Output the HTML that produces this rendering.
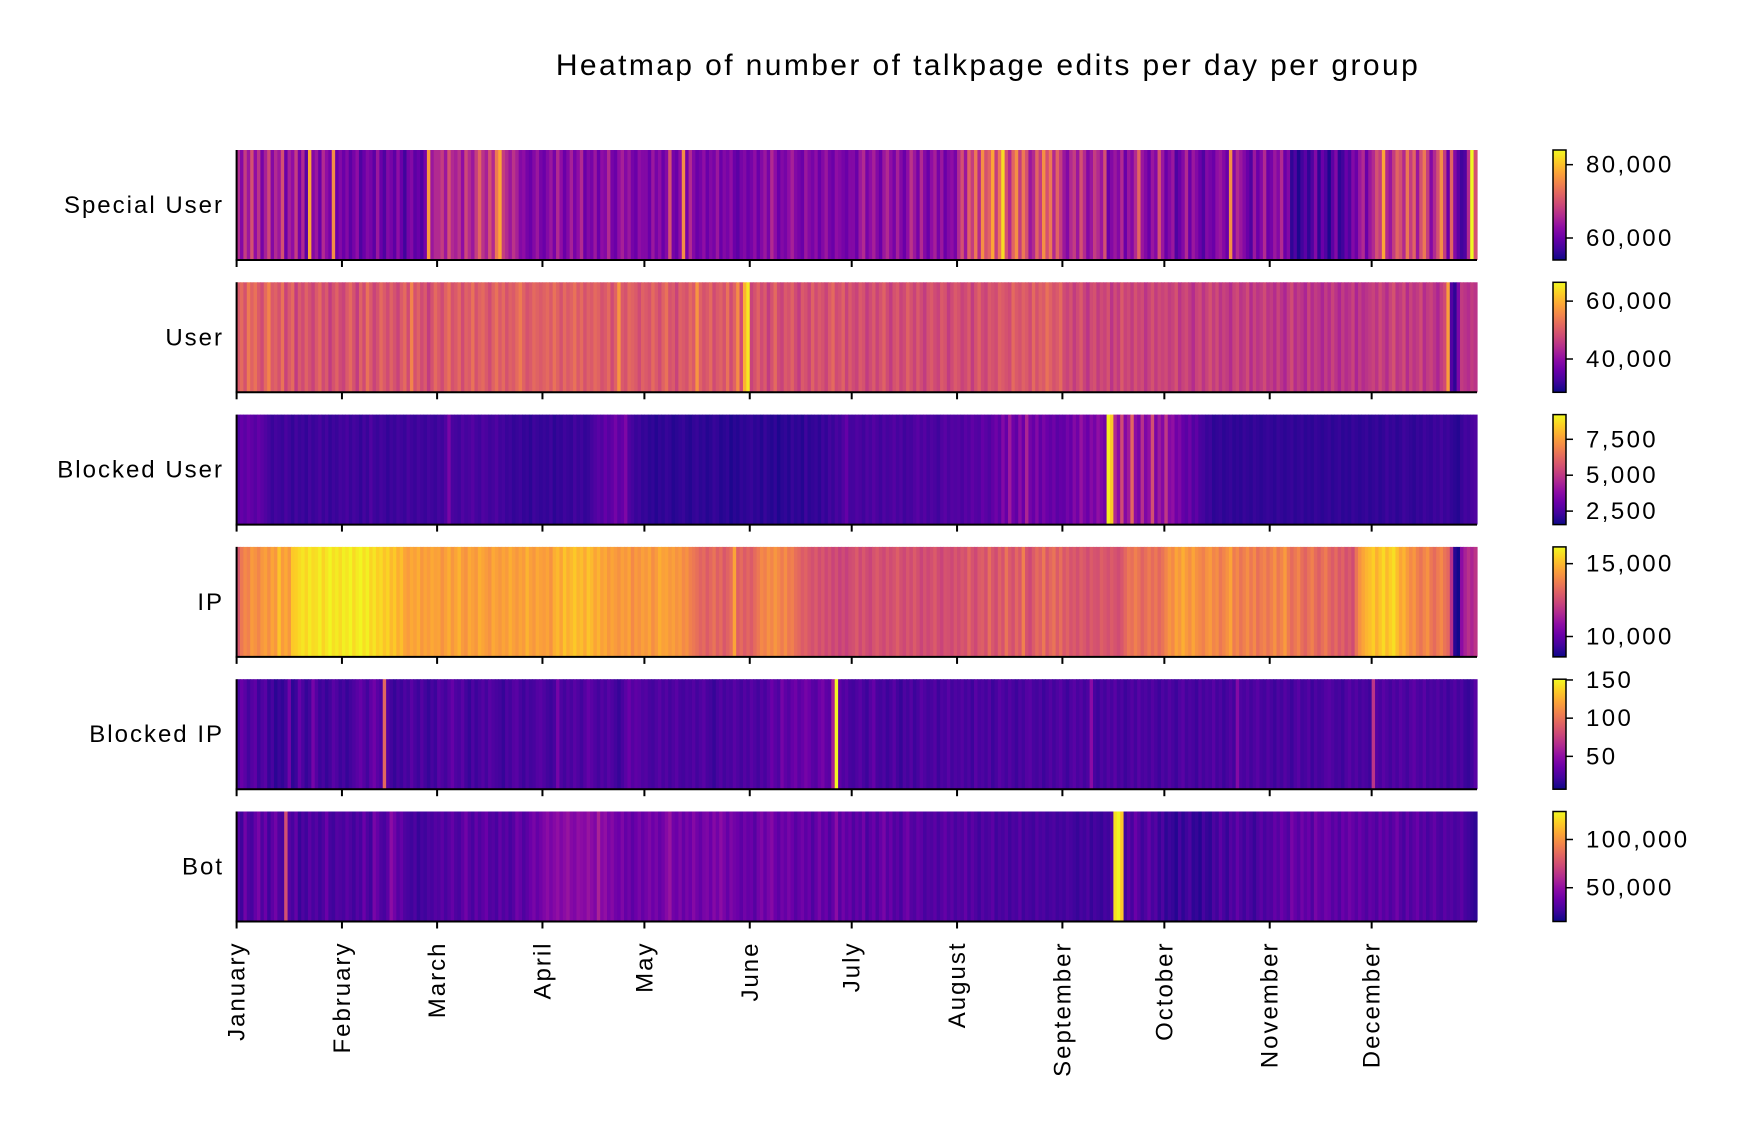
<!DOCTYPE html>
<html><head><meta charset="utf-8"><style>
html,body{margin:0;padding:0;background:#fff;}
svg{display:block;font-family:"Liberation Sans",sans-serif;}
</style></head><body>
<svg id="chart" width="1740" height="1134" viewBox="0 0 1740 1134" xmlns="http://www.w3.org/2000/svg">
<text x="988" y="75" font-size="30" letter-spacing="2.4" text-anchor="middle" fill="#000">Heatmap of number of talkpage edits per day per group</text>
<g id="plots"></g>
</svg>
<script>
const groups = ["Special User","User","Blocked User","IP","Blocked IP","Bot"];
const months = ["January","February","March","April","May","June","July","August","September","October","November","December"];
const monthStartDays = [0,31,59,90,120,151,181,212,243,273,304,334];
const totalDays = 365;
// values in thousands (except Blocked IP, raw counts)
const specialUser = [66,62,68,64,70,63,67,61,65,69,62,66,64,70,60,65,63,68,61,66,59,78,62,64,60,66,63,61,76,60,62,
60,62,59,61,63,58,60,62,61,59,64,60,58,62,61,59,63,60,57,61,62,59,60,58,61,77,64,66,
66,68,64,70,66,65,67,63,69,66,64,68,72,67,65,70,66,74,78,68,66,64,67,65,62,63,61,60,62,64,61,
60,62,64,61,66,63,60,62,65,61,63,66,60,62,61,64,60,63,62,66,61,60,63,65,62,64,61,60,63,62,
62,60,64,61,63,60,62,70,61,60,63,76,61,66,62,60,61,63,60,62,61,64,60,62,61,63,60,59,61,62,60,
61,63,60,62,64,61,66,63,60,62,61,63,65,62,61,60,64,62,61,63,60,62,64,61,60,63,62,61,60,62,
62,60,64,66,61,63,65,62,60,64,66,63,61,65,62,60,63,67,64,61,66,62,60,63,65,61,64,60,62,63,61,
66,70,64,72,68,74,66,76,70,72,78,68,74,82,70,66,72,76,68,74,70,64,66,72,68,76,70,74,66,72,68,
64,62,66,68,64,70,66,62,64,68,66,64,70,60,62,64,62,66,60,64,62,66,72,64,62,60,64,62,70,64,
60,62,64,58,60,62,66,60,64,62,60,58,62,61,60,63,64,62,60,76,62,66,64,62,60,58,64,60,62,66,60,
61,64,62,66,60,62,56,58,55,57,59,56,58,62,56,60,58,55,59,62,56,57,60,58,62,60,64,66,60,64,
66,70,68,78,66,64,68,72,70,66,74,68,72,64,70,74,68,62,66,70,76,68,60,72,62,59,57,58,66,84,70];
const userVals = [50,52,49,54,51,53,50,48,52,55,50,51,49,53,47,50,52,46,50,48,51,49,47,50,52,48,50,46,49,51,48,
47,50,52,49,46,51,48,53,50,47,49,52,50,48,51,49,47,50,52,48,55,49,51,48,50,46,49,52,
50,48,51,53,49,50,52,48,51,50,53,49,51,52,50,48,51,53,50,52,49,51,50,52,54,51,49,50,52,51,50,
51,52,50,53,51,49,52,50,51,53,50,52,49,51,50,52,51,49,50,52,48,51,57,50,49,52,51,50,48,51,
50,49,52,50,48,51,53,49,50,47,51,50,49,52,50,57,51,49,50,52,48,50,51,49,53,48,51,56,48,60,65,
47,49,51,48,50,46,49,52,48,47,50,49,51,48,46,50,49,47,51,48,50,49,47,50,52,48,49,51,47,50,
48,47,50,49,46,48,50,47,49,51,48,46,49,50,47,48,51,49,47,50,48,46,49,50,48,47,50,49,46,48,50,
49,47,48,50,46,49,51,48,47,50,49,48,51,50,49,48,52,50,49,51,50,48,52,49,51,50,53,51,49,50,52,
48,47,49,46,48,50,47,45,48,49,46,48,47,49,45,48,46,50,47,48,46,49,47,48,45,47,49,46,48,47,
48,46,47,49,45,47,48,46,44,47,48,45,47,49,46,48,45,47,46,44,47,48,45,46,48,44,47,45,46,48,45,
46,44,47,45,43,46,48,44,46,45,43,47,44,46,45,43,46,44,47,45,43,46,44,45,47,43,46,44,45,46,
47,45,48,46,44,47,49,45,46,48,44,47,45,46,48,44,46,47,45,43,46,48,58,34,31,38,46,45,44,46,45];
const blockedUser = [2.6,3.0,2.8,3.1,2.9,2.7,3.0,2.8,2.6,2.4,2.2,2.4,2.3,2.2,2.5,2.3,2.1,2.4,2.2,2.3,2.1,2.4,2.2,2.3,2.5,2.2,2.4,2.1,2.3,2.2,2.4,
2.3,2.5,2.2,2.4,2.3,2.1,2.4,2.2,2.6,2.3,2.2,2.4,2.3,2.1,2.3,2.2,2.4,2.3,2.2,2.5,2.3,2.2,2.4,2.3,2.2,2.4,2.3,2.2,
2.4,2.3,2.6,3.4,2.5,2.4,2.3,2.6,2.4,2.5,2.7,2.4,2.3,2.6,2.5,2.3,2.4,2.6,2.3,2.4,2.2,2.3,2.1,2.2,2.3,2.1,2.2,2.0,2.3,2.2,2.1,
2.2,2.1,2.3,2.0,2.2,2.1,2.3,2.2,2.1,2.4,2.2,2.3,2.1,2.2,2.4,2.6,2.8,2.6,3.0,2.7,2.9,3.3,2.8,3.0,3.5,2.6,2.4,2.2,2.3,2.1,
2.2,2.0,2.1,1.9,2.1,2.0,2.2,2.1,1.9,2.0,2.1,2.2,2.0,1.9,2.1,2.2,2.0,2.1,1.9,2.0,2.2,2.1,1.9,2.0,2.1,1.8,2.0,1.9,2.1,2.0,2.1,
2.2,2.0,2.1,1.9,2.2,2.0,1.9,2.1,1.8,2.0,2.1,1.9,2.2,2.0,2.1,1.9,2.3,2.0,2.1,2.2,2.0,2.3,2.1,2.4,2.2,2.5,2.3,2.6,3.0,2.4,
2.4,2.6,2.5,2.3,2.6,2.4,2.7,2.5,2.3,2.6,2.4,2.5,2.7,2.4,2.6,2.3,2.5,2.4,2.6,2.8,2.5,2.7,2.4,2.6,2.5,2.3,2.6,2.8,2.5,2.7,2.6,
2.7,2.5,2.8,2.6,2.9,2.7,2.6,3.0,2.8,2.6,2.9,3.2,2.8,3.6,3.0,4.2,3.2,2.9,3.8,3.1,4.5,3.3,3.0,3.6,2.9,3.4,3.1,2.9,3.2,2.8,3.0,
2.9,3.3,3.0,3.6,3.2,4.0,3.4,3.1,3.7,3.3,3.9,3.5,3.2,9.0,8.4,4.6,3.8,5.5,3.6,4.2,6.2,3.8,3.4,4.8,3.5,3.9,5.6,3.4,4.2,3.6,
5.0,3.6,3.9,3.2,3.5,3.0,2.8,3.2,2.6,2.9,2.5,2.4,2.2,2.3,2.0,2.1,2.2,2.0,2.1,2.2,2.0,2.1,2.0,2.2,2.1,2.0,2.2,2.1,2.0,2.1,2.2,
2.1,2.0,2.2,2.1,2.0,2.1,2.2,2.0,2.1,2.2,2.0,2.1,2.0,2.2,2.1,2.0,2.1,2.2,2.0,2.1,2.2,2.0,2.1,2.0,2.2,2.1,2.0,2.1,2.2,2.0,
2.1,2.2,2.0,2.1,2.3,2.1,2.2,2.0,2.1,2.3,2.2,2.1,2.0,2.2,2.1,2.3,2.2,2.1,2.3,2.2,2.4,2.2,2.3,2.1,2.0,1.9,2.2,2.4,2.3,2.5,2.6];
const ipVals = [12.8,13.6,14.0,13.8,14.4,14.2,13.9,14.3,14.5,14.1,14.6,14.3,15.2,14.4,14.7,14.3,15.3,15.4,15.6,15.8,15.5,15.9,15.6,15.7,16.0,15.5,15.8,16.1,15.7,15.9,15.6,
16.0,15.8,16.1,15.6,15.9,16.1,15.7,16.0,15.5,15.8,15.4,15.6,15.2,15.5,15.0,15.3,14.8,15.1,14.6,14.4,14.7,14.5,14.8,14.3,14.6,14.4,14.7,14.5,
14.6,14.2,14.5,14.8,14.3,14.6,14.9,14.4,14.2,14.7,14.5,14.3,14.8,14.6,14.4,14.2,14.7,14.5,14.3,14.6,14.4,14.8,14.5,14.3,14.6,14.4,14.9,14.5,14.3,14.7,14.5,
14.4,14.6,14.2,14.8,15.0,14.6,15.2,14.8,15.0,15.3,14.9,15.1,14.7,15.2,15.0,14.6,14.9,14.5,14.7,14.3,14.6,14.4,14.2,14.5,14.3,14.6,14.0,14.4,14.2,14.5,
14.3,14.6,14.1,14.4,14.8,14.5,14.6,14.3,14.5,14.2,14.4,14.0,14.2,13.8,13.6,13.4,13.1,13.3,12.9,13.2,13.5,13.0,13.3,12.8,13.1,13.4,14.6,13.0,13.3,12.9,13.2,
12.9,13.3,13.6,14.0,13.8,14.2,13.9,14.3,14.0,13.7,14.1,13.6,13.8,13.4,13.2,12.9,13.1,12.8,12.6,12.9,12.5,12.8,12.4,12.7,12.3,12.6,12.2,12.5,12.2,12.5,
12.6,12.9,12.4,12.8,12.5,12.3,12.7,12.9,12.6,12.4,12.8,12.5,12.7,13.0,12.6,12.4,12.8,12.5,12.9,12.6,12.3,12.7,12.4,12.6,12.9,12.5,12.3,12.7,12.6,12.4,12.8,
12.5,12.8,12.6,13.2,12.7,12.4,12.9,13.0,12.6,13.4,12.8,12.5,13.1,12.7,13.5,12.9,12.6,13.2,12.8,13.8,12.7,12.4,12.9,13.3,13.0,13.6,12.8,13.2,13.5,12.9,13.4,
12.8,13.1,12.7,12.9,12.6,13.0,12.8,12.5,12.9,12.7,12.6,13.0,12.8,12.6,12.9,12.7,12.5,12.8,13.2,13.6,13.4,13.8,13.5,13.1,13.4,13.7,13.3,13.6,13.2,13.5,
13.9,14.3,14.0,14.6,14.3,14.8,14.4,14.1,14.6,14.2,14.0,13.8,14.2,14.4,13.9,14.1,13.6,13.9,14.2,14.6,13.7,14.0,13.5,13.8,14.1,13.6,14.0,13.4,13.7,13.9,13.5,
13.8,14.2,13.6,13.9,14.4,13.7,13.3,13.6,13.9,13.4,13.1,13.5,13.8,13.3,13.0,13.4,13.7,13.2,12.9,13.3,12.8,13.1,12.6,12.9,12.5,13.5,14.2,14.6,14.9,15.1,
15.4,14.8,15.2,15.6,15.0,15.4,15.7,15.1,14.6,14.9,14.4,14.0,14.3,13.8,13.5,13.9,14.2,13.6,13.3,13.7,14.0,13.5,13.2,11.8,9.0,8.7,10.8,11.4,11.8,11.5,11.9];
const blockedIp = [25,35,30,22,28,32,20,26,30,18,24,15,20,17,22,38,16,20,34,25,18,22,40,28,20,24,18,22,30,26,20,
24,18,22,26,30,34,28,22,32,38,30,25,95,28,22,18,24,20,26,22,30,24,20,28,22,18,24,20,
30,26,22,28,34,26,24,30,22,18,26,20,24,28,22,30,26,24,22,18,26,22,28,30,24,20,26,22,24,28,30,
26,22,20,24,40,26,22,28,24,30,26,22,28,34,30,26,22,28,24,30,26,22,18,24,30,36,28,32,30,26,
28,24,22,26,30,24,28,22,26,30,24,22,26,24,28,22,26,30,24,22,18,24,28,22,26,24,30,26,22,28,24,
30,26,22,28,24,30,36,30,26,40,32,28,34,38,30,34,40,36,30,28,36,40,32,30,60,150,32,26,30,24,
22,26,30,24,20,28,34,24,22,26,20,24,30,22,18,26,22,28,20,24,30,26,22,24,28,20,26,24,30,22,26,
24,28,22,26,20,30,24,26,22,28,20,24,30,26,22,28,24,20,26,22,28,30,24,22,26,20,24,28,22,26,30,
24,20,26,30,24,28,22,26,48,24,20,26,22,28,24,30,22,26,20,24,28,22,30,24,26,22,28,24,20,26,
22,28,24,20,26,30,22,26,24,20,28,22,26,24,30,22,26,20,24,28,22,46,26,24,28,22,26,30,24,22,28,
24,20,26,22,28,24,20,26,30,22,24,28,20,26,22,24,28,30,26,22,24,20,26,30,24,28,22,26,24,20,
70,28,24,30,26,22,28,24,30,26,22,28,32,26,24,30,22,26,24,28,22,26,20,24,28,22,26,20,18,22,30];
const botVals = [32,26,40,30,28,36,42,30,38,26,34,40,30,28,75,32,28,36,24,30,26,34,28,32,26,30,38,28,26,32,30,
28,34,30,26,32,28,38,30,26,42,36,30,28,34,48,40,32,36,30,28,26,30,24,28,26,30,28,32,
30,34,28,32,36,30,28,34,40,32,28,36,30,34,38,30,32,28,36,30,34,28,32,40,36,30,34,38,42,36,40,
44,48,42,46,50,44,48,52,46,44,50,48,46,52,48,44,58,46,50,42,46,40,38,44,36,40,34,38,42,36,
40,44,38,42,36,40,46,52,40,38,44,36,42,38,46,40,36,42,44,38,46,40,48,42,36,44,40,38,34,40,36,
38,32,40,44,36,42,46,38,34,40,36,42,38,32,36,40,34,38,30,36,42,34,38,30,36,48,32,40,34,38,
30,36,32,40,28,34,38,30,36,42,32,38,30,34,28,36,40,32,30,36,34,28,32,30,34,28,32,36,30,34,28,
32,30,36,28,34,30,26,32,28,30,34,26,30,28,32,26,30,28,34,26,30,28,26,32,28,30,26,28,30,26,28,
26,30,28,26,24,28,26,30,24,28,26,24,28,26,30,122,128,115,26,34,28,38,32,26,30,36,28,32,24,30,
22,26,24,20,28,22,26,30,22,24,20,28,24,22,30,26,34,28,24,32,28,36,30,26,32,28,24,30,34,28,32,
30,36,32,38,34,30,42,36,32,40,34,38,30,42,36,34,40,38,32,36,30,38,34,40,36,32,38,34,30,36,
34,30,38,32,36,30,34,40,32,28,36,30,34,38,30,34,28,32,36,30,28,34,30,32,28,30,34,28,26,24,22];
const seriesList = [specialUser,userVals,blockedUser,ipVals,blockedIp,botVals];
const domainMin = [54,28.5,1.56,8.6,7,15];
const domainMax = [84,66.5,9.22,16.15,151,129];
const cbTicks = [[60,80],[40,60],[2.5,5,7.5],[10,15],[50,100,150],[50,100]];
const cbTickLabels = [["60,000","80,000"],["40,000","60,000"],["2,500","5,000","7,500"],["10,000","15,000"],["50","100","150"],["50,000","100,000"]];

const X0=236.6, X1=1477, Y0=150, ROWSTEP=132.3, ROWH=110, CBX=1553, CBW=13;
const stops=["#0d0887","#41049d","#6a00a8","#8f0da4","#b12a90","#cc4778","#e16462","#f2844b","#fca636","#fcce25","#f0f921"];
function hex(c){return [parseInt(c.slice(1,3),16),parseInt(c.slice(3,5),16),parseInt(c.slice(5,7),16)];}
function plasma(t){t=Math.max(0,Math.min(1,t));const p=t*10,i=Math.min(9,Math.floor(p)),f=p-i;const a=hex(stops[i]),b=hex(stops[i+1]);
return "rgb("+a.map((v,k)=>Math.round(v+(b[k]-v)*f)).join(",")+")";}
function xDay(d){return X0+d*(X1-X0)/totalDays;}
const NS="http://www.w3.org/2000/svg";
const svg=document.getElementById("chart");
const g=document.getElementById("plots");
function mk(tag,attrs,parent){const e=document.createElementNS(NS,tag);for(const k in attrs)e.setAttribute(k,attrs[k]);parent.appendChild(e);return e;}
const defs=mk("defs",{},svg);
seriesList.forEach((vals,r)=>{
  const top=Y0+r*ROWSTEP, bot=top+ROWH;
  const row=mk("g",{},g);
  
  
  const n=vals.length, w=(X1-X0)/n;
  const lo=domainMin[r], hi=domainMax[r];
  vals.forEach((v,i)=>{
    const c=mk("rect",{x:(X0+i*w).toFixed(2),y:top,width:(w+0.6).toFixed(2),height:ROWH,fill:plasma((v-lo)/(hi-lo))},row);
    
    
  });
  mk("line",{x1:X0,y1:top,x2:X0,y2:bot,stroke:"#000","stroke-width":2},row);
  mk("line",{x1:X0-1,y1:bot,x2:X1,y2:bot,stroke:"#000","stroke-width":2},row);
  monthStartDays.forEach(d=>{mk("line",{x1:xDay(d),y1:bot,x2:xDay(d),y2:bot+7,stroke:"#000","stroke-width":2},row);});
  const lbl=mk("text",{x:224,y:(top+ROWH/2+8),"font-size":24,"letter-spacing":2,"text-anchor":"end",fill:"#000"},row);
  lbl.textContent=groups[r];
  
  
  const gid="cb"+r;
  const lg=mk("linearGradient",{id:gid,x1:"0",y1:"1",x2:"0",y2:"0"},defs);
  for(let k=0;k<=10;k++)mk("stop",{offset:k/10,"stop-color":stops[k]},lg);
  const cb=mk("g",{},g);
  
  
  mk("rect",{x:CBX,y:top,width:CBW,height:ROWH,fill:"url(#"+gid+")",stroke:"#000","stroke-width":1.5},cb);
  cbTicks[r].forEach((t,k)=>{
    const y=bot-(t-lo)/(hi-lo)*ROWH;
    mk("line",{x1:CBX+CBW,y1:y,x2:CBX+CBW+7,y2:y,stroke:"#000","stroke-width":1.5},cb);
    const tl=mk("text",{x:CBX+CBW+20,y:y+8,"font-size":24,"letter-spacing":2.4,fill:"#000"},cb);
    tl.textContent=cbTickLabels[r][k];
    
    
  });
});
const lastBot=Y0+5*ROWSTEP+ROWH;
months.forEach((m,i)=>{
  const x=xDay(monthStartDays[i]);
  const t=mk("text",{x:0,y:0,"font-size":24,"letter-spacing":2,"text-anchor":"end",fill:"#000",transform:"translate("+(x+8)+","+(lastBot+20)+") rotate(-90)"},g);
  t.textContent=m;
  
  
});
</script>
</body></html>
